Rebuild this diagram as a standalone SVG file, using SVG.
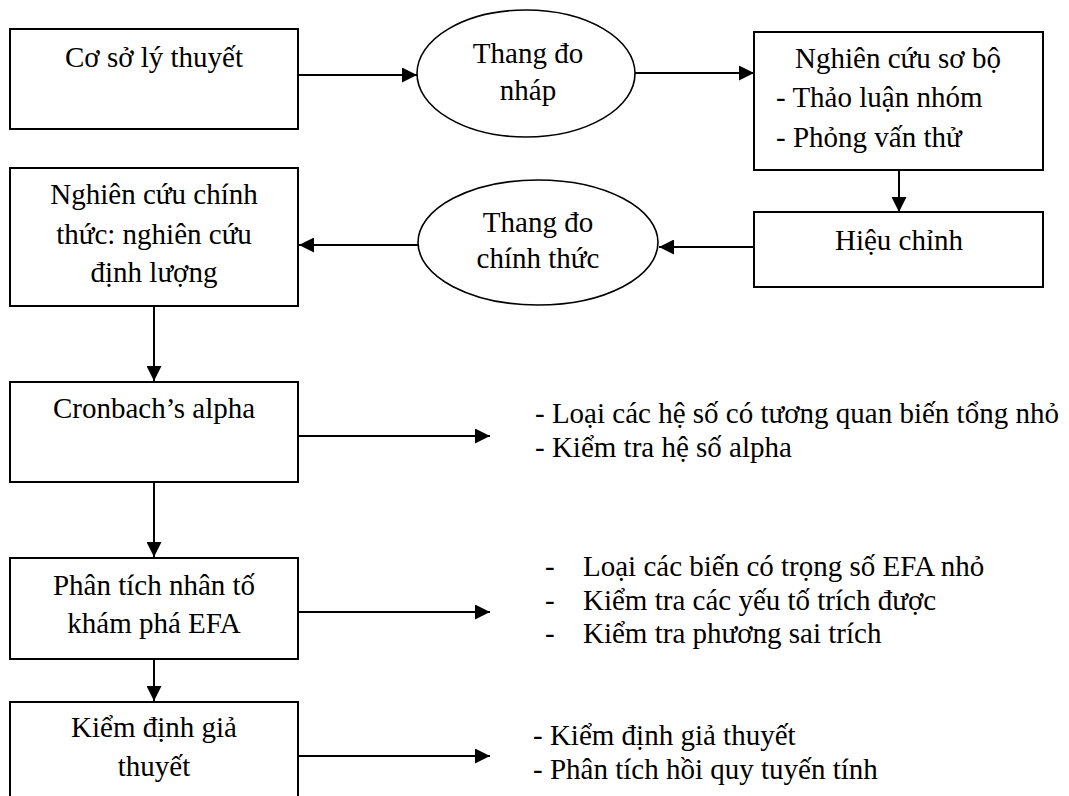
<svg xmlns="http://www.w3.org/2000/svg" width="1069" height="796" viewBox="0 0 1069 796">
<defs>
<marker id="ah" viewBox="0 0 10 10" refX="10" refY="5" markerWidth="15" markerHeight="15" markerUnits="userSpaceOnUse" orient="auto"><path d="M0,0 L10,5 L0,10 z" fill="#000"/></marker>
<style>
.box{fill:#fff;stroke:#000;stroke-width:2}
.ell{fill:#fff;stroke:#000;stroke-width:1.6}
text{font-family:'Liberation Serif',serif;font-size:29px;fill:#000}
.c{text-anchor:middle}
.ln{stroke:#000;stroke-width:2;fill:none;marker-end:url(#ah)}
</style>
</defs>
<rect width="1069" height="796" fill="#fff"/>
<g id="connectors">
<line class="ln" x1="298" y1="75" x2="417" y2="75"/>
<line class="ln" x1="635" y1="73" x2="754" y2="73"/>
<line class="ln" x1="899" y1="143" x2="899" y2="212"/>
<line class="ln" x1="754" y1="247" x2="659" y2="247"/>
<line class="ln" x1="418" y1="245" x2="299" y2="245"/>
<line class="ln" x1="154" y1="306" x2="154" y2="381"/>
<line class="ln" x1="298" y1="436" x2="490" y2="436"/>
<line class="ln" x1="154" y1="482" x2="154" y2="557"/>
<line class="ln" x1="298" y1="612" x2="490" y2="612"/>
<line class="ln" x1="154" y1="659" x2="154" y2="701"/>
<line class="ln" x1="298" y1="756" x2="490" y2="756"/>
</g>
<g font-family="'Liberation Serif', serif" font-size="29">
<g id="co-so-ly-thuyet">
<rect class="box" x="10" y="29" width="288" height="100"/>
<text class="c" x="154" y="67">Cơ sở lý thuyết</text>
</g>
<g id="thang-do-nhap">
<ellipse class="ell" cx="526" cy="73.5" rx="109" ry="63.5"/>
<text class="c" x="528" y="63">Thang đo</text>
<text class="c" x="528" y="100">nháp</text>
</g>
<g id="nghien-cuu-so-bo">
<rect class="box" x="754" y="32" width="289" height="138"/>
<text class="c" x="898" y="68">Nghiên cứu sơ bộ</text>
<text x="776" y="107">- Thảo luận nhóm</text>
<text x="776" y="147">- Phỏng vấn thử</text>
</g>
<g id="hieu-chinh">
<rect class="box" x="754" y="212" width="289" height="75"/>
<text class="c" x="899" y="250">Hiệu chỉnh</text>
</g>
<g id="thang-do-chinh-thuc">
<ellipse class="ell" cx="538" cy="242.5" rx="120" ry="62.5"/>
<text class="c" x="538" y="232">Thang đo</text>
<text class="c" x="538" y="268">chính thức</text>
</g>
<g id="nghien-cuu-chinh-thuc">
<rect class="box" x="10" y="168" width="288" height="138"/>
<text class="c" x="154" y="204">Nghiên cứu chính</text>
<text class="c" x="154" y="244">thức: nghiên cứu</text>
<text class="c" x="154" y="282">định lượng</text>
</g>
<g id="cronbach">
<rect class="box" x="10" y="382" width="288" height="100"/>
<text class="c" x="154" y="418">Cronbach’s alpha</text>
</g>
<g id="cronbach-notes">
<text x="535" y="423">- Loại các hệ số có tương quan biến tổng nhỏ</text>
<text x="535" y="457">- Kiểm tra hệ số alpha</text>
</g>
<g id="efa">
<rect class="box" x="10" y="558" width="288" height="101"/>
<text class="c" x="154" y="595">Phân tích nhân tố</text>
<text class="c" x="154" y="633">khám phá EFA</text>
</g>
<g id="efa-notes">
<text x="545" y="576">-</text>
<text x="583" y="576">Loại các biến có trọng số EFA nhỏ</text>
<text x="545" y="610">-</text>
<text x="583" y="610">Kiểm tra các yếu tố trích được</text>
<text x="545" y="643">-</text>
<text x="583" y="643">Kiểm tra phương sai trích</text>
</g>
<g id="kiem-dinh">
<rect class="box" x="10" y="702" width="288" height="110"/>
<text class="c" x="154" y="737">Kiểm định giả</text>
<text class="c" x="154" y="776">thuyết</text>
</g>
<g id="kiem-dinh-notes">
<text x="533" y="745">- Kiểm định giả thuyết</text>
<text x="533" y="779">- Phân tích hồi quy tuyến tính</text>
</g>
</g>
</svg>
